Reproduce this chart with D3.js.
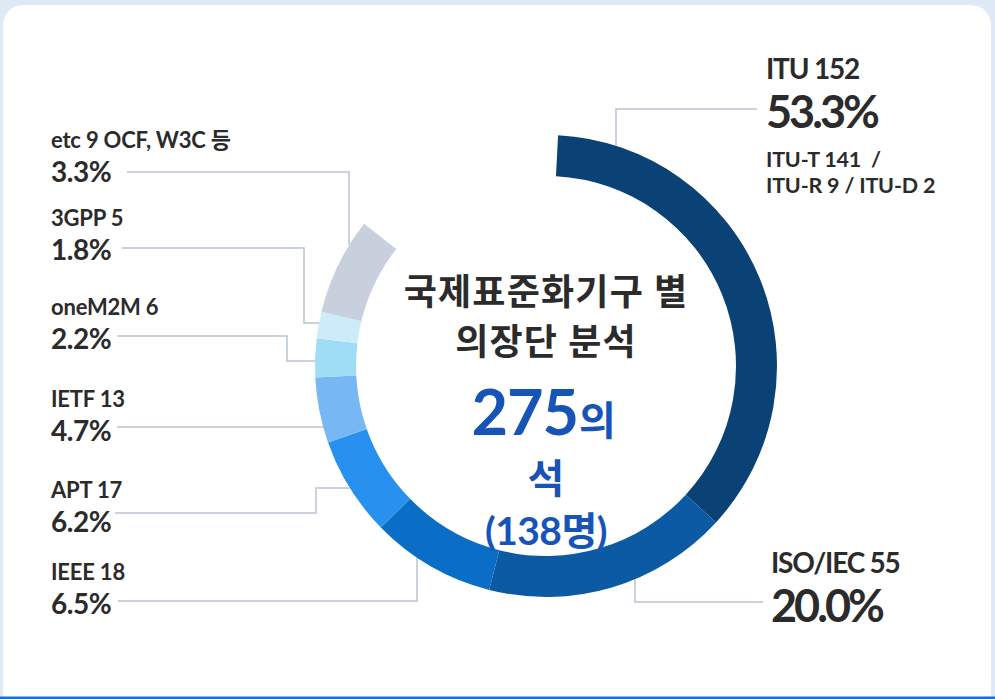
<!DOCTYPE html>
<html>
<head>
<meta charset="utf-8">
<script src="https://cdn.jsdelivr.net/npm/d3@7"></script>
<style>
  html, body { margin: 0; padding: 0; background: #dfe9f6; }
  svg { display: block; }
  text { font-family: Lato, "Noto Sans CJK KR", sans-serif; }
</style>
</head>
<body>
<div id="canvas"></div>
<script>
"use strict"

/* data */
let orgNames = ["ITU", "ISO/IEC", "IEEE", "APT", "IETF", "oneM2M", "3GPP", "etc"];
let seats = [152, 55, 18, 17, 13, 6, 5, 9];
let seatPct = [53.3, 20.0, 6.5, 6.2, 4.7, 2.2, 1.8, 3.3];
let nameExtra = ["", "", "", "", "", "", "", "OCF, W3C 등"];
let ituDetail = ["ITU-T 141  /", "ITU-R 9 / ITU-D 2"];
/* share of the ring as it is drawn in the source graphic (%) -- the
   original artwork does not draw the arcs in proportion to the seats */
let drawnShare = [42.5, 20.2, 10.3, 8.2, 5.4, 3.2, 2.2, 8.0];
let totalSeats = 275;
let totalPeople = 138;

let slices = orgNames.map((name, i) => ({
    name: name,
    seats: seats[i],
    pct: seatPct[i],
    extra: nameExtra[i],
    share: drawnShare[i]
}));

let color = d3.scaleOrdinal()
    .domain(orgNames)
    .range(["#0b4275", "#0c5aa3", "#0b6ec6", "#2891ef", "#76b7f4", "#9fdcf5", "#cdecf9", "#c9d0dd"]);

let pctFormat = d3.format(".1f");

let width = 995, height = 699;
let cx = 546, cy = 366;
let outerR = 231, innerR = 190;
let toRad = Math.PI / 180;

let drawing = d3.select("#canvas")
    .append("svg")
    .attr("width", width)
    .attr("height", height);

/* card */
drawing.append("rect")
    .attr("x", 3)
    .attr("y", 5)
    .attr("width", 988)
    .attr("height", 720)
    .attr("rx", 20)
    .attr("fill", "white");

drawing.append("rect")
    .attr("x", 0)
    .attr("y", 696.5)
    .attr("width", width)
    .attr("height", 2.5)
    .attr("fill", "#1a6fd0");

/* label placement: name baseline, and leader route ending on the ring */
let layout = {
    "ITU":     {x: 766, y: 79,  big: true, route: [[757, 109], [616, 109]], snap: "v"},
    "ISO/IEC": {x: 771, y: 573, big: true, route: [[763, 602], [635, 602]], snap: "v"},
    "IEEE":    {x: 51,  y: 580, route: [[118, 601], [417, 601]], snap: "v"},
    "APT":     {x: 51,  y: 498, route: [[115, 513], [316, 513], [316, 488]], snap: "h"},
    "IETF":    {x: 51,  y: 407, route: [[117, 427]], snap: "h"},
    "oneM2M":  {x: 51,  y: 315, route: [[117, 336], [287, 336], [287, 361]], snap: "h"},
    "3GPP":    {x: 51,  y: 226, route: [[122, 248], [304, 248], [304, 323]], snap: "h"},
    "etc":     {x: 51,  y: 148, route: [[127, 172], [349, 172]], snap: "v"}
};

/* close a leader on the outer edge of the ring */
function leaderPoints(l) {
    let pts = l.route.slice();
    let last = pts[pts.length - 1];
    if (l.snap === "v") {
        let dy = Math.sqrt(outerR * outerR - (last[0] - cx) * (last[0] - cx));
        pts.push([last[0], last[1] < cy ? cy - dy : cy + dy]);
    } else {
        let dx = Math.sqrt(outerR * outerR - (last[1] - cy) * (last[1] - cy));
        pts.push([last[0] < cx ? cx - dx : cx + dx, last[1]]);
    }
    return pts;
}

let leaders = drawing.append("g")
    .selectAll("polyline")
    .data(slices)
    .join("polyline")
    .attr("points", d => leaderPoints(layout[d.name]).join(" "))
    .attr("fill", "none")
    .attr("stroke", "#b9c3d3")
    .attr("stroke-width", 1.5);

/* the ring */
let pie = d3.pie()
    .sort(null)
    .value(d => d.share)
    .startAngle(3 * toRad)
    .endAngle(308 * toRad);

let arc = d3.arc()
    .innerRadius(innerR)
    .outerRadius(outerR);

let ring = drawing.append("g")
    .attr("transform", `translate(${cx},${cy})`)
    .selectAll("path")
    .data(pie(slices))
    .join("path")
    .attr("d", arc)
    .attr("fill", d => color(d.data.name));

/* labels: name line and percent line */
let labels = drawing.append("g")
    .selectAll("g")
    .data(slices)
    .join("g")
    .attr("transform", d => `translate(${layout[d.name].x},${layout[d.name].y})`);

labels.append("text")
    .attr("fill", "#2b2b2b")
    .attr("font-weight", 700)
    .attr("font-size", d => layout[d.name].big ? 28 : 22)
    .attr("letter-spacing", d => layout[d.name].big ? -1.2 : -0.2)
    .text(d => `${d.name} ${d.seats}` + (d.extra ? " " + d.extra : ""));

labels.append("text")
    .attr("fill", "#2b2b2b")
    .attr("font-weight", 700)
    .attr("y", d => layout[d.name].big ? 49 : 34)
    .attr("font-size", d => layout[d.name].big ? 45 : 28)
    .attr("letter-spacing", d => layout[d.name].big ? -3 : -0.5)
    .text(d => pctFormat(d.pct) + "%");

/* ITU break-down */
drawing.append("g")
    .selectAll("text")
    .data(ituDetail)
    .join("text")
    .attr("x", 766)
    .attr("y", (d, i) => 167 + i * 26)
    .attr("fill", "#2b2b2b")
    .attr("font-weight", 700)
    .attr("font-size", 21.5)
    .attr("letter-spacing", -0.2)
    .style("white-space", "pre")
    .text(d => d);

/* centre title */
let titleLines = ["국제표준화기구 별", "의장단 분석"];
drawing.append("g")
    .selectAll("text")
    .data(titleLines)
    .join("text")
    .attr("x", cx)
    .attr("y", (d, i) => 305 + i * 50)
    .attr("text-anchor", "middle")
    .attr("fill", "#2b2b2b")
    .attr("font-family", "'Noto Sans CJK KR', sans-serif")
    .attr("font-weight", 700)
    .attr("font-size", 36)
    .attr("letter-spacing", 1.2)
    .text(d => d);

/* centre total */
let blue = "#1754b8";

drawing.append("text")
    .attr("x", 578)
    .attr("y", 435)
    .attr("text-anchor", "end")
    .attr("fill", blue)
    .attr("font-weight", 700)
    .attr("font-size", 63)
    .attr("letter-spacing", -1)
    .text(totalSeats);

drawing.append("text")
    .attr("x", 579)
    .attr("y", 435)
    .attr("fill", blue)
    .attr("font-family", "'Noto Sans CJK KR', sans-serif")
    .attr("font-weight", 700)
    .attr("font-size", 40)
    .text("의");

drawing.append("text")
    .attr("x", cx)
    .attr("y", 493)
    .attr("text-anchor", "middle")
    .attr("fill", blue)
    .attr("font-family", "'Noto Sans CJK KR', sans-serif")
    .attr("font-weight", 700)
    .attr("font-size", 40)
    .text("석");

drawing.append("text")
    .attr("x", cx)
    .attr("y", 545)
    .attr("text-anchor", "middle")
    .attr("fill", blue)
    .attr("font-weight", 700)
    .attr("font-size", 39)
    .attr("letter-spacing", -0.5)
    .text(`(${totalPeople}명)`);
</script>
</body>
</html>
